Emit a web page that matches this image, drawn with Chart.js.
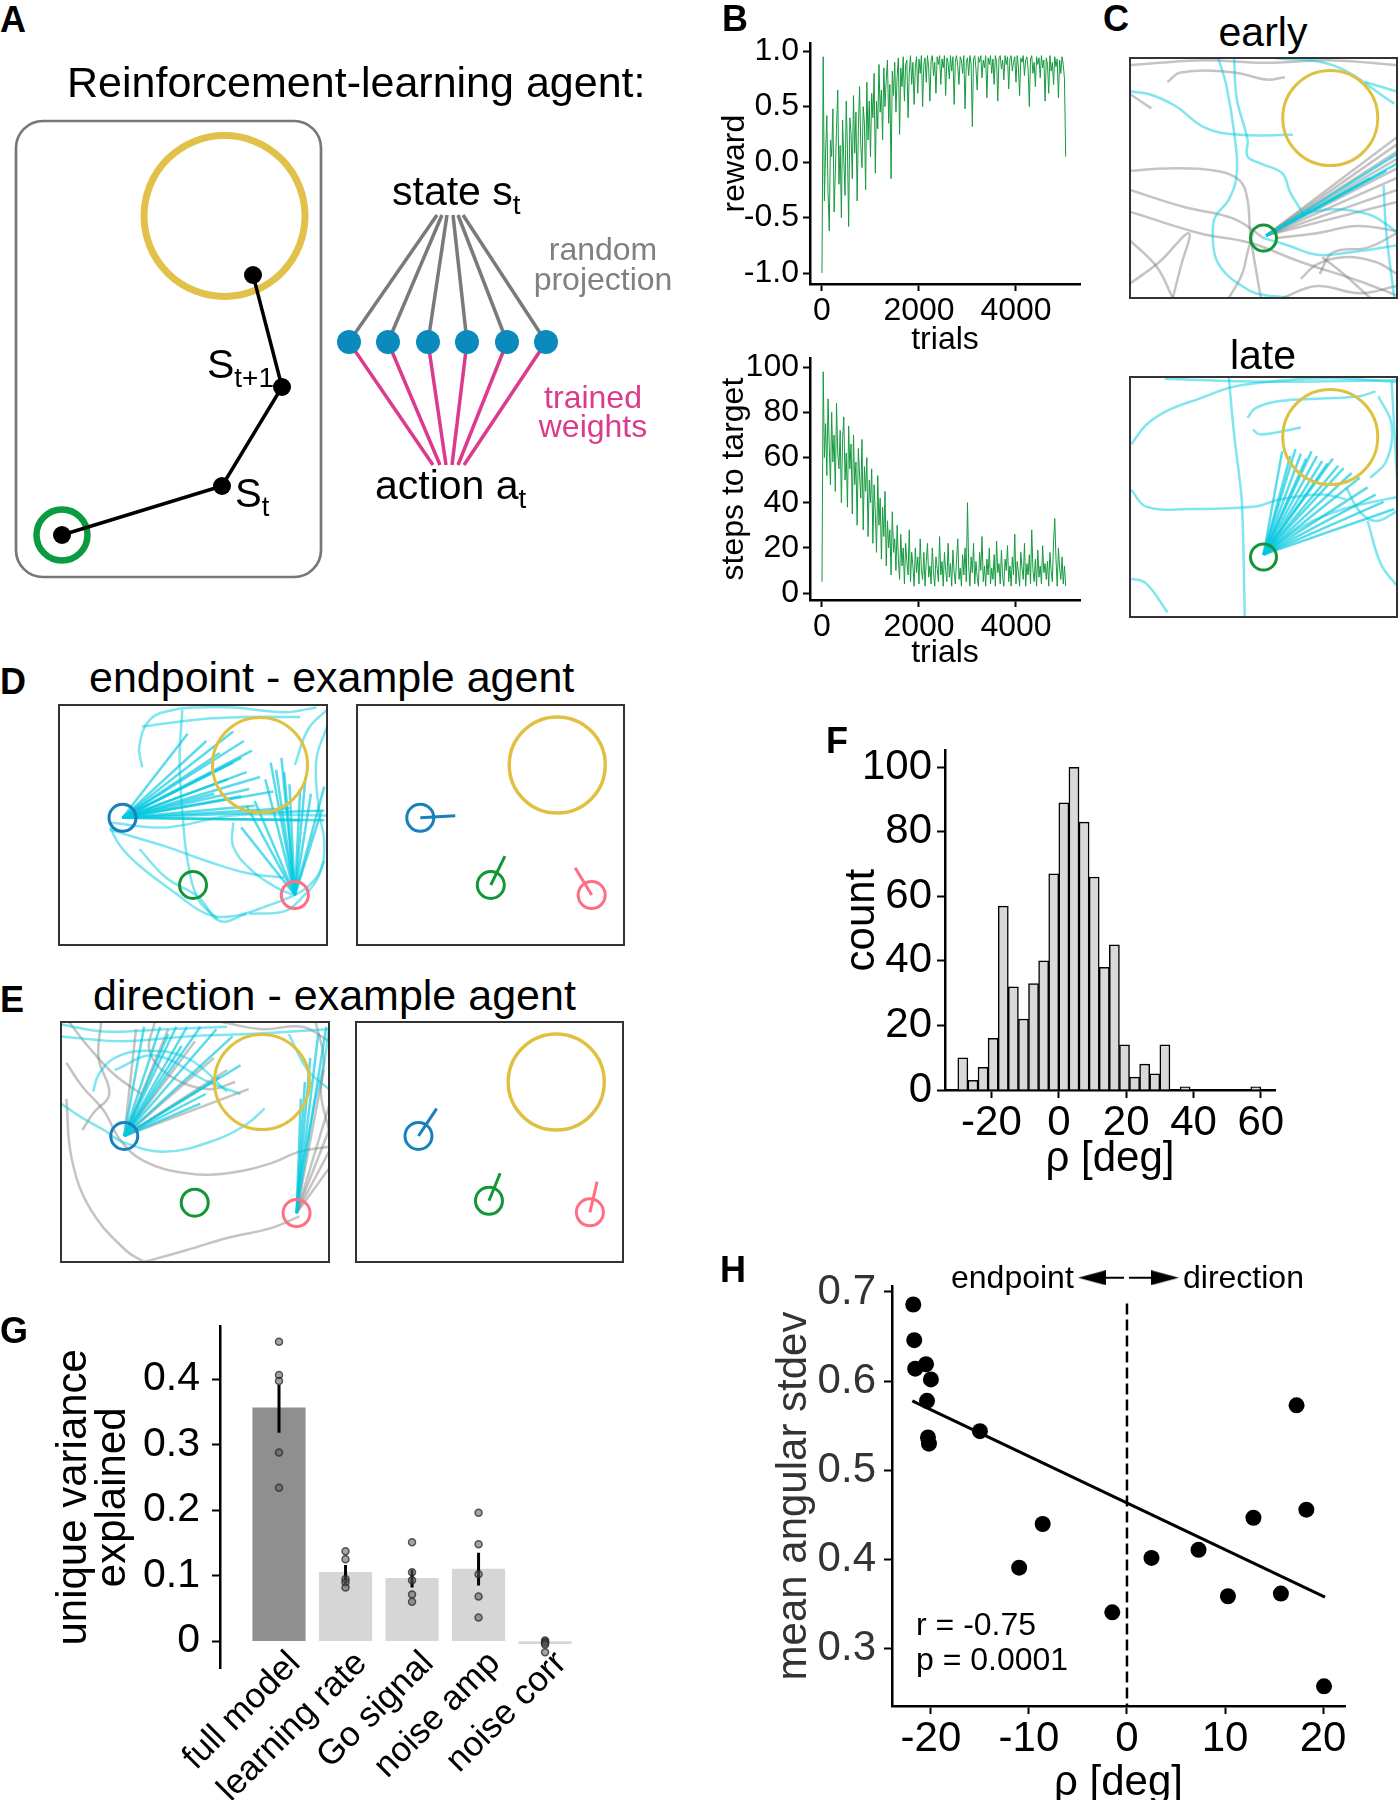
<!DOCTYPE html>
<html>
<head>
<meta charset="utf-8">
<script src="https://cdn.jsdelivr.net/npm/chart.js@4.4.0/dist/chart.umd.min.js"></script>
<style>
  body { margin: 0; background: #fff; width: 1399px; height: 1800px; position: relative; overflow: hidden;
         font-family: 'Liberation Sans', Arial, Helvetica, sans-serif; }
  canvas { position: absolute; }
  .t { position: absolute; white-space: nowrap; line-height: 1; color: #000; }
  .sub { font-size: 0.68em; position: relative; top: 0.32em; }
</style>
</head>
<body>
<script>
// ---------- B: learning curves (one value every TRIAL_STEP trials) ----------
const TRIAL_STEP = 25;
const trialTicks = [0, 2000, 4000];
const rewardTicks = [-1, -0.5, 0, 0.5, 1];
const stepsTicks = [0, 20, 40, 60, 80, 100];
const rewardValues = [
  -1.00, 0.95, -0.35, 0.10, 0.42, -0.28, -0.62, 0.20, 0.05, 0.48, -0.45, -0.10, 0.30, 0.65, -0.20, 0.15, -0.50, 0.38, 0.02, -0.30,
  0.55, 0.12, -0.58, 0.40, 0.25, -0.15, 0.60, 0.08, 0.45, -0.35, 0.30, 0.68, 0.15, -0.05, 0.50, 0.35, -0.25, 0.72, 0.20, 0.55,
  0.05, 0.62, 0.40, 0.80, -0.10, 0.55, 0.30, 0.88, 0.45, 0.65, 0.20, 0.85, 0.50, 0.75, 0.92, 0.35, 0.70, -0.15, 0.82, 0.60,
  0.90, 0.45, 0.78, 0.94, 0.25, 0.85, 0.68, 0.95, 0.55, 0.88, 0.92, 0.40, 0.80, 0.96, 0.70, 0.90, 0.52, 0.86, 0.95, 0.62,
  0.93, 0.80, 0.96, 0.50, 0.88, 0.94, 0.72, 0.96, 0.85, 0.55, 0.92, 0.96, 0.78, 0.90, 0.62, 0.95, 0.88, 0.96, 0.70, 0.93,
  0.85, 0.96, 0.60, 0.94, 0.90, 0.75, 0.96, 0.82, 0.95, 0.52, 0.91, 0.96, 0.86, 0.70, 0.95, 0.92, 0.80, 0.96, 0.48, 0.90,
  0.94, 0.78, 0.96, 0.88, 0.32, 0.93, 0.96, 0.84, 0.65, 0.95, 0.90, 0.96, 0.76, 0.92, 0.85, 0.96, 0.58, 0.94, 0.88, 0.96,
  0.80, 0.93, 0.70, 0.96, 0.90, 0.55, 0.94, 0.96, 0.84, 0.92, 0.74, 0.96, 0.88, 0.95, 0.66, 0.93, 0.96, 0.82, 0.90, 0.95,
  0.72, 0.96, 0.86, 0.60, 0.94, 0.90, 0.96, 0.78, 0.92, 0.95, 0.84, 0.50, 0.93, 0.96, 0.80, 0.90, 0.68, 0.95, 0.88, 0.94,
  0.76, 0.96, 0.85, 0.92, 0.55, 0.94, 0.88, 0.62, 0.96, 0.82, 0.90, 0.70, 0.95, 0.86, 0.93, 0.58, 0.92, 0.80, 0.95, 0.88, 0.75, 0.05
];
const stepsValues = [
  5, 98, 60, 75, 52, 86, 65, 48, 80, 58, 70, 45, 84, 62, 55, 72, 40, 68, 78, 50,
  62, 38, 74, 55, 66, 35, 70, 48, 58, 30, 64, 52, 42, 68, 28, 56, 45, 60, 25, 50,
  40, 55, 22, 48, 35, 18, 52, 30, 42, 15, 38, 25, 45, 12, 32, 20, 28, 8, 36, 18,
  24, 10, 30, 15, 6, 26, 12, 20, 4, 22, 14, 8, 28, 5, 18, 12, 3, 20, 9, 16,
  4, 24, 10, 6, 18, 3, 14, 22, 7, 12, 4, 20, 9, 3, 16, 11, 5, 25, 8, 14,
  3, 18, 10, 5, 22, 7, 13, 3, 19, 9, 4, 15, 24, 6, 11, 3, 17, 8, 20, 5,
  40, 12, 3, 16, 9, 22, 4, 14, 7, 3, 18, 10, 25, 5, 12, 3, 15, 8, 20, 4,
  11, 6, 17, 3, 23, 9, 13, 4, 19, 7, 3, 15, 10, 21, 5, 12, 3, 16, 8, 26,
  4, 14, 9, 3, 18, 11, 6, 22, 3, 13, 8, 17, 4, 28, 10, 5, 15, 3, 19, 7,
  12, 4, 21, 9, 13, 6, 14, 3, 18, 10, 5, 23, 33, 15, 3, 20, 11, 6, 16, 4, 12, 3
];

// ---------- C / D / E: arena trajectories, units 0-100, y pointing down ----------
const targetPos = [75, 25];
const startPos = [50, 75];
const earlyGray = [
  [[0,3],[26,1],[51,2],[76,1],[100,3]],
  [[14,10],[19,6],[39,6],[51,9],[58,8]],
  [[0,15],[8,21]],
  [[0,47],[14,46],[32,47],[41,51],[44,59],[45,73],[47,87],[49,100]],
  [[0,55],[20,62],[39,67],[50,75]],
  [[0,64],[26,73],[45,77],[64,85],[86,93],[100,99]],
  [[0,76],[10,87],[16,100]],
  [[0,94],[11,85],[22,73],[19,87],[16,100]],
  [[37,100],[42,90],[44,81],[46,73]],
  [[71,90],[76,81],[89,79],[100,73]],
  [[57,100],[70,95],[86,98],[100,95]],
  [[72,83],[80,90],[90,100]],
  [[55,75],[70,73],[85,70],[100,72]],
  [[64,92],[70,86],[80,83],[92,85],[100,90]]
];
const earlyCyan = [
  [[33,0],[36,11],[39,31],[40,48],[37,59],[32,66],[31,72],[32,83],[36,90],[42,95],[47,98],[60,100]],
  [[39,0],[40,17],[44,34],[44,41],[49,44],[57,48],[60,56],[65,65]],
  [[0,14],[7,15],[17,20],[28,29],[41,32],[61,32]],
  [[54,0],[76,3],[99,19]],
  [[95,53],[96,73],[99,100]],
  [[50,75],[59,78],[70,82],[82,81],[95,79],[100,78]],
  [[64,65],[76,63],[89,65],[97,70],[100,73]],
  [[88,10],[100,14]]
];
const earlyFanGray = [[100,33],[100,36],[100,39],[100,42],[100,46],[100,50],[100,55],[100,60]];
const earlyFanCyan = [[100,40],[100,44],[96,47],[90,50]];

const lateCyan = [
  [[0.5,28],[6,20],[14,14],[26,9],[39,4],[57,1.5],[75,0.5],[100,2]],
  [[0.5,47],[6,54],[22,55],[47,54],[56,51],[72,49],[81,51]],
  [[37,0],[39,24],[41,42],[42,54],[43,100]],
  [[44,17],[47,13],[56,10],[72,9],[86,8],[92,6]],
  [[46,22],[49,24],[64,21]],
  [[0.5,84],[6,86],[14,98]],
  [[89,60],[94,78],[100,87]],
  [[81,46],[86,56],[92,60],[100,56]],
  [[98,2],[100,42]],
  [[13,0.7],[50,2],[100,1.4]],
  [[93,8],[98,20],[96,35],[90,42]],
  [[50,74],[65,62],[80,55],[100,50]]
];
const lateFanCyan = [[57,31],[60,33],[62,30],[64,32],[66,34],[68,31],[70,33],[72,35],[74,36],[76,34],
  [78,37],[80,38],[83,40],[86,42],[89,46],[92,49],[95,52],[99,55]];

const blueStart = [23.7, 47];
const greenStart = [50, 75];
const pinkStart = [88, 79.2];
const endBlueFan = [[48,12],[65,11],[69,15],[72,19],[68,22],[65,24],[70,28],[71,35],[63,31],[58,37],
  [68,38],[73,42],[86,43],[99,44],[99,48],[90,48],[55,15],[60,20],[75,30],[80,36]];
const endPinkFan = [[79,24],[81,27],[84,28],[86,33],[90,35],[94,37],[73,40],[70,42],[68,51],[98,44],
  [99,34],[77,31],[83,22],[92,30]];
const endCyan = [
  [[19,52],[28,55],[40,59],[55,65],[70,70],[84,72]],
  [[19,51],[23,59],[30,67],[43,78],[55,87],[65,88],[77,84],[90,78],[96,72],[99,65]],
  [[31,26],[30,17],[34,6],[43,2],[52,1],[65,1],[84,3],[96,1]],
  [[46,2],[45,23],[46,44],[48,65],[52,81],[59,89]],
  [[100,9],[96,23],[97,44],[99,58],[97,71],[90,81],[84,86],[71,87]],
  [[65,49],[65,59],[72,69],[81,76],[87,79]],
  [[31,9],[52,6],[71,5],[90,5]],
  [[19,49],[40,51],[65,46],[100,46]],
  [[100,2],[93,10],[88,25]],
  [[30,60],[40,72],[52,80],[60,90],[70,87]]
];

const dirBlueFanCyan = [[31,2],[37,2],[43,2],[47,2],[52,2],[58,3],[64,6],[67,18],[59,23],[54,30],[52,34],[45,10],[40,5]];
const dirBlueFanGray = [[28,3],[40,3],[50,8],[57,15],[62,20],[70,28]];
const dirPinkFanCyan = [[89.5,32],[93,15],[96,5],[99,2],[91,25]];
const dirPinkFanGray = [[100,61],[100,54],[100,45],[100,35],[98,20]];
const dirGray = [
  [[2,17],[8,27],[16,37],[22,49],[31,58],[47,63],[62,63],[78,59],[89,54],[100,52]],
  [[2,32],[4,57],[11,78],[24,95],[31,100]],
  [[31,100],[47,95],[62,90],[78,86],[89,81]],
  [[3,0],[10,10],[20,22],[30,30]],
  [[15,0],[14,15],[18,30],[12,38],[8,45]],
  [[35,0],[33,12],[40,22],[55,28],[65,25]],
  [[60,0],[75,3],[90,2],[100,8]],
  [[95,0],[98,15],[97,30],[100,45]]
];
const dirCyan = [
  [[0,34],[8,40],[16,45],[23,50],[39,54],[58,49],[70,42],[76,36]],
  [[0,6],[23,8],[47,6],[70,5],[100,3]],
  [[0,1],[16,4],[39,3],[62,2]],
  [[12,29],[14,22],[20,15],[31,12],[47,15],[62,29]],
  [[100,3],[98,18],[95,32],[92,49],[89,66],[88,80]],
  [[20,20],[35,14],[55,25],[67,30]],
  [[85,5],[92,20],[100,28]]
];
// mean initial movement direction per start (end point of the short line)
const endpointDirs = { blue: [[23.7,47],[36.8,46.1]], green: [[50.1,75],[55.4,63]], pink: [[87.9,79.2],[81.7,67.8]] };
const directionDirs = { blue: [[23.4,47.5],[30.2,36.1]], green: [[49.8,74.5],[54,63]], pink: [[87.6,79.3],[90.3,66.5]] };

// ---------- F: histogram of rho ----------
const fBinCenters = [-28.5, -25.5, -22.5, -19.5, -16.5, -13.5, -10.5, -7.5, -4.5, -1.5, 1.5, 4.5, 7.5,
  10.5, 13.5, 16.5, 19.5, 22.5, 25.5, 28.5, 31.5, 37.5, 58.5];
const fCounts = [10, 3, 7, 16, 57, 32, 22, 33, 40, 67, 89, 100, 83, 66, 38, 45, 14, 4, 8, 5, 14, 1, 1];
const fXTicks = [-20, 0, 20, 40, 60];
const fYTicks = [0, 20, 40, 60, 80, 100];

// ---------- G: unique variance explained ----------
const gCategories = ['full model', 'learning rate', 'Go signal', 'noise amp', 'noise corr'];
const gMeans = [0.356, 0.105, 0.096, 0.110, -0.004];
const gErrLow = [0.318, 0.088, 0.082, 0.085, -0.006];
const gErrHigh = [0.391, 0.116, 0.109, 0.135, -0.002];
const gDots = [
  [0.457, 0.406, 0.397, 0.288, 0.234],
  [0.137, 0.125, 0.095, 0.090, 0.082],
  [0.151, 0.105, 0.093, 0.071, 0.060],
  [0.196, 0.148, 0.102, 0.068, 0.036],
  [0.001, -0.001, -0.003, -0.005, -0.017]
];
const gYTicks = [0, 0.1, 0.2, 0.3, 0.4];
const gBarColors = ['#8f8f8f', '#d6d6d6', '#d6d6d6', '#d6d6d6', '#d6d6d6'];

// ---------- H: angular stdev vs rho ----------
const hRho = [-21.8, -21.7, -21.6, -20.5, -20.0, -20.4, -20.3, -20.2, -15.0, -8.6, -11.0, -1.5,
  2.5, 7.3, 10.3, 12.9, 15.7, 17.3, 18.3, 20.1];
const hStd = [0.686, 0.646, 0.614, 0.619, 0.602, 0.578, 0.537, 0.530, 0.544, 0.440, 0.391, 0.341,
  0.402, 0.411, 0.359, 0.447, 0.362, 0.573, 0.456, 0.258];
const hFitX = [-21.9, 20.2];
const hFitY = [0.578, 0.358];
const hXTicks = [-20, -10, 0, 10, 20];
const hYTicks = [0.3, 0.4, 0.5, 0.6, 0.7];

// ---------- chart defaults ----------
Chart.defaults.font.family = "'Liberation Sans', Arial, Helvetica, sans-serif";
Chart.defaults.color = '#000';
Chart.defaults.animation = false;
Chart.defaults.responsive = false;
Chart.defaults.devicePixelRatio = 1;
Chart.defaults.events = [];
Chart.defaults.layout.autoPadding = false;
Chart.defaults.plugins.legend.display = false;
Chart.defaults.plugins.tooltip.enabled = false;

function makeCanvas(left, top, w, h) {
  const c = document.createElement('canvas');
  c.width = w; c.height = h;
  c.style.left = left + 'px'; c.style.top = top + 'px';
  c.style.width = w + 'px'; c.style.height = h + 'px';
  document.body.appendChild(c);
  return c;
}

function axis(o) {
  return {
    type: 'linear', min: o.min, max: o.max, reverse: !!o.reverse, offset: false,
    border: { display: o.border !== false, color: '#000', width: 2.5 },
    grid: { drawOnChartArea: false, drawTicks: !!o.tickLen, tickLength: o.tickLen || 0, tickWidth: 2, tickColor: '#000', offset: false },
    ticks: { font: { size: o.size }, padding: o.pad, color: o.color || '#000', callback: o.fmt, autoSkip: false,
             maxRotation: o.rot || 0, minRotation: o.rot || 0, labelOffset: o.labelOffset || 0 },
    afterBuildTicks: s => { s.ticks = o.ticks.map(v => ({ value: v })); },
    afterFit: s => { if (o.w != null) s.width = o.w; if (o.h != null) s.height = o.h; },
    title: o.title ? { display: true, text: o.title, color: o.tcolor || '#000',
                       font: { size: o.tsize, lineHeight: o.tlh || 1.2 }, padding: { top: o.tpad, bottom: o.tpad } }
                   : { display: false }
  };
}

const hidden = (min, max, reverse) => ({ type: 'linear', display: false, min, max, reverse });
const pts = arr => arr.map(([x, y]) => ({ x, y }));
const path = (p, color, width, tension) => ({ data: pts(p), showLine: true, borderColor: color, borderWidth: width,
  pointRadius: 0, tension: tension == null ? 0.4 : tension, fill: false });
const fan = (start, ends, color, width) => ends.map(e => path([start, e], color, width, 0));
const ring = (p, r, color, w) => ({ data: pts([p]), showLine: false, pointRadius: r, pointBorderWidth: w,
  pointBorderColor: color, pointBackgroundColor: 'rgba(0,0,0,0)' });

const frame = { id: 'frame', afterDatasetsDraw(chart) {
  const { ctx, chartArea: a } = chart;
  ctx.save(); ctx.strokeStyle = '#333'; ctx.lineWidth = 2;
  ctx.strokeRect(a.left, a.top, a.right - a.left, a.bottom - a.top); ctx.restore();
} };

const roundBox = { id: 'roundBox', beforeDatasetsDraw(chart, args, o) {
  const { ctx, scales: { x, y } } = chart;
  const l = x.getPixelForValue(o.x0), r = x.getPixelForValue(o.x1);
  const t = y.getPixelForValue(o.y0), b = y.getPixelForValue(o.y1);
  ctx.save(); ctx.beginPath(); ctx.roundRect(l, t, r - l, b - t, o.radius);
  ctx.strokeStyle = o.color; ctx.lineWidth = o.width; ctx.stroke(); ctx.restore();
} };

const CYAN = 'rgba(0,206,224,0.5)';
const CYAN_FAN = 'rgba(0,200,222,0.65)';
const GRAY = 'rgba(125,125,125,0.45)';
const YELLOW = '#e0c040';
const BLUE = '#1780bd', GREEN = '#139638', PINK = '#ff6e83';
const TRAJ_W = 2.5;

function arena(left, top, w, h, datasets) {
  new Chart(makeCanvas(left - 2, top - 2, w + 4, h + 4), {
    type: 'scatter',
    data: { datasets },
    options: { layout: { padding: 2, autoPadding: false }, scales: { x: hidden(0, 100), y: hidden(0, 100, true) } },
    plugins: [frame]
  });
}

// ---------- A: schematic ----------
const diagBox = { x0: 3.2, x1: 64.2, y0: 4.2, y1: 95.4 };
const diagTarget = [44.9, 23.2];
const diagPath = [[50.6, 35], [56.4, 57.4], [44.4, 77.2], [12.4, 87]];
const diagNodesX = [69.8, 77.6, 85.6, 93.4, 101.4, 109.2];
const diagNodeY = 48.4;
const diagStateX = [87.4, 88.4, 89.4, 90.6, 91.6, 92.6];
const diagStateY = 23;
const diagActionX = [86.6, 88, 89.2, 90.4, 91.6, 92.8];
const diagActionY = 73;

new Chart(makeCanvas(0, 100, 700, 500), {
  type: 'scatter',
  data: { datasets: [
    { data: pts(diagPath), showLine: false, pointRadius: 9, pointBackgroundColor: '#000', pointBorderWidth: 0 },
    { data: diagNodesX.map(x => ({ x, y: diagNodeY })), showLine: false, pointRadius: 12, pointBackgroundColor: '#0a8abd', pointBorderWidth: 0 },
    path(diagPath, '#000', 3.5, 0),
    ...diagNodesX.map((x, i) => path([[diagStateX[i], diagStateY], [x, diagNodeY]], '#7a7a7a', 3.5, 0)),
    ...diagNodesX.map((x, i) => path([[x, diagNodeY], [diagActionX[i], diagActionY]], '#dc3a8c', 3.5, 0)),
    ring(diagTarget, 80.5, '#e2c14a', 7),
    ring(diagPath[3], 25.5, '#0a9a40', 6.5)
  ] },
  options: {
    layout: { padding: 0, autoPadding: false },
    scales: { x: hidden(0, 140), y: hidden(0, 100, true) },
    plugins: { roundBox: { ...diagBox, radius: 27, color: '#777', width: 2.7 } }
  },
  plugins: [roundBox]
});

// ---------- B ----------
new Chart(makeCanvas(690, 20, 410, 345), {
  type: 'line',
  data: { datasets: [{ data: rewardValues.map((v, i) => ({ x: i * TRIAL_STEP, y: v })), borderColor: '#159a3f',
                       borderWidth: 1, pointRadius: 0, tension: 0 }] },
  options: {
    layout: { padding: { top: 22, right: 20, left: 0, bottom: 0 } },
    scales: {
      x: axis({ min: -247, max: 5320, ticks: trialTicks, size: 32, pad: 1, tickLen: 7, h: 81,
                title: 'trials', tsize: 32, tpad: 6, fmt: v => String(v) }),
      y: axis({ min: -1.099, max: 1.072, ticks: rewardTicks, size: 32, pad: 4, tickLen: 7, w: 120,
                title: 'reward', tsize: 32, tpad: 26, fmt: v => v.toFixed(1) })
    }
  }
});

new Chart(makeCanvas(690, 335, 410, 345), {
  type: 'line',
  data: { datasets: [{ data: stepsValues.map((v, i) => ({ x: i * TRIAL_STEP, y: v })), borderColor: '#159a3f',
                       borderWidth: 1, pointRadius: 0, tension: 0 }] },
  options: {
    layout: { padding: { top: 22, right: 20, left: 0, bottom: 0 } },
    scales: {
      x: axis({ min: -247, max: 5320, ticks: trialTicks, size: 32, pad: 1, tickLen: 7, h: 80,
                title: 'trials', tsize: 32, tpad: 8, fmt: v => String(v) }),
      y: axis({ min: -3.1, max: 104, ticks: stepsTicks, size: 32, pad: 4, tickLen: 7, w: 120,
                title: 'steps to target', tsize: 32, tpad: 25, fmt: v => String(v) })
    }
  }
});

// ---------- C ----------
arena(1130, 58, 267, 240, [
  ring(startPos, 13, GREEN, 3),
  ring(targetPos, 47.5, YELLOW, 3),
  ...fan([51, 74], earlyFanCyan, CYAN_FAN, TRAJ_W),
  ...earlyCyan.map(p => path(p, CYAN, TRAJ_W)),
  ...fan([51, 74], earlyFanGray, GRAY, TRAJ_W),
  ...earlyGray.map(p => path(p, GRAY, TRAJ_W))
]);
arena(1130, 377, 267, 240, [
  ring(startPos, 13, GREEN, 3),
  ring(targetPos, 47.5, YELLOW, 3),
  ...fan([50, 74], lateFanCyan, CYAN_FAN, TRAJ_W),
  ...lateCyan.map(p => path(p, CYAN, TRAJ_W))
]);

// ---------- D ----------
arena(59, 705, 268, 240, [
  ring(blueStart, 13.5, BLUE, 3),
  ring(greenStart, 13.5, GREEN, 3),
  ring(pinkStart, 13.5, PINK, 3),
  ring(targetPos, 47.5, YELLOW, 3),
  ...fan(blueStart, endBlueFan, CYAN_FAN, TRAJ_W),
  ...fan(pinkStart, endPinkFan, CYAN_FAN, TRAJ_W),
  ...endCyan.map(p => path(p, CYAN, TRAJ_W))
]);
arena(357, 705, 267, 240, [
  path(endpointDirs.blue, BLUE, 3, 0), path(endpointDirs.green, GREEN, 3, 0), path(endpointDirs.pink, PINK, 3, 0),
  ring(endpointDirs.blue[0], 13.5, BLUE, 3), ring(endpointDirs.green[0], 13.5, GREEN, 3), ring(endpointDirs.pink[0], 13.5, PINK, 3),
  ring(targetPos, 48, YELLOW, 3.5)
]);

// ---------- E ----------
arena(61, 1022, 268, 240, [
  ring([23.6, 47.5], 13.5, BLUE, 3),
  ring([49.9, 75.3], 13.5, GREEN, 3),
  ring([87.9, 79.6], 13.5, PINK, 3),
  ring(targetPos, 47.5, YELLOW, 3),
  ...fan([23.6, 47.5], dirBlueFanCyan, CYAN_FAN, TRAJ_W),
  ...fan([87.9, 79.6], dirPinkFanCyan, CYAN_FAN, TRAJ_W),
  ...dirCyan.map(p => path(p, CYAN, TRAJ_W)),
  ...fan([23.6, 47.5], dirBlueFanGray, GRAY, TRAJ_W),
  ...fan([87.9, 79.6], dirPinkFanGray, GRAY, TRAJ_W),
  ...dirGray.map(p => path(p, GRAY, TRAJ_W))
]);
arena(356, 1022, 267, 240, [
  path(directionDirs.blue, BLUE, 3, 0), path(directionDirs.green, GREEN, 3, 0), path(directionDirs.pink, PINK, 3, 0),
  ring(directionDirs.blue[0], 13.5, BLUE, 3), ring(directionDirs.green[0], 13.5, GREEN, 3), ring(directionDirs.pink[0], 13.5, PINK, 3),
  ring(targetPos, 48, YELLOW, 3.5)
]);

// ---------- F ----------
new Chart(makeCanvas(780, 720, 520, 480), {
  type: 'bar',
  data: { datasets: [{ data: fBinCenters.map((x, i) => ({ x, y: fCounts[i] })), backgroundColor: '#d9d9d9',
                       borderColor: '#000', borderWidth: 1.5, barPercentage: 1, categoryPercentage: 1 }] },
  options: {
    layout: { padding: { top: 30, right: 25, left: 0, bottom: 0 } },
    scales: {
      x: axis({ min: -33.8, max: 64.2, ticks: fXTicks, size: 42, pad: 0, tickLen: 8, h: 110,
                title: 'ρ [deg]', tsize: 42, tpad: 15, fmt: v => String(v) }),
      y: axis({ min: 0, max: 105.3, ticks: fYTicks, size: 42, pad: 5, tickLen: 8, w: 165,
                title: 'count', tsize: 42, tpad: 57, fmt: v => String(v) })
    }
  }
});

// ---------- G ----------
const gX = axis({ min: -0.887, max: 4.6, ticks: gCategories.map((c, i) => i), size: 35, pad: 2, tickLen: 0,
                  border: false, rot: 45, labelOffset: 16, fmt: v => gCategories[v] });
gX.position = { y: 0 };   // category labels hang from the zero line
new Chart(makeCanvas(0, 1290, 620, 510), {
  type: 'bar',
  data: { datasets: [
    { type: 'line', order: 0, data: gDots.flatMap((vals, i) => vals.map(y => ({ x: i, y }))), showLine: false,
      pointRadius: 3.5, pointBackgroundColor: 'rgba(90,90,90,0.55)', pointBorderColor: 'rgba(40,40,40,0.75)', pointBorderWidth: 1.5 },
    ...gCategories.map((c, i) => ({ type: 'line', order: 1, data: [{ x: i, y: gErrLow[i] }, { x: i, y: gErrHigh[i] }],
      borderColor: '#000', borderWidth: 3, pointRadius: 0, tension: 0 })),
    { order: 2, data: gMeans.map((y, i) => ({ x: i, y })), backgroundColor: gBarColors, borderWidth: 0, barThickness: 52.5 }
  ] },
  options: {
    layout: { padding: { top: 35, right: 35, left: 0, bottom: 132 } },
    scales: {
      x: gX,
      y: axis({ min: -0.041, max: 0.48, ticks: gYTicks, size: 41, pad: 12, tickLen: 8, w: 220,
                title: ['unique variance', 'explained'], tsize: 42, tlh: 0.95, tpad: 54,
                fmt: v => v === 0 ? '0' : v.toFixed(1) })
    }
  }
});

// ---------- H ----------
function arrowHead(dir) {
  const c = document.createElement('canvas');
  c.width = 28; c.height = 15;
  const g = c.getContext('2d');
  g.beginPath();
  if (dir < 0) { g.moveTo(0, 7.5); g.lineTo(28, 0); g.lineTo(28, 15); }
  else { g.moveTo(28, 7.5); g.lineTo(0, 0); g.lineTo(0, 15); }
  g.closePath(); g.fillStyle = '#000'; g.fill();
  return c;
}
const ARROW_Y = 0.716;
new Chart(makeCanvas(740, 1240, 640, 560), {
  type: 'scatter',
  data: { datasets: [
    { data: hRho.map((x, i) => ({ x, y: hStd[i] })), pointRadius: 8, pointBackgroundColor: '#000', pointBorderWidth: 0 },
    { data: hFitX.map((x, i) => ({ x, y: hFitY[i] })), showLine: true, borderColor: '#000', borderWidth: 3, pointRadius: 0 },
    { data: [{ x: 0, y: 0.687 }, { x: 0, y: 0.236 }], showLine: true, borderColor: '#000', borderWidth: 2.5,
      borderDash: [11, 5], pointRadius: 0 },
    { data: [{ x: -0.3, y: ARROW_Y }, { x: -3.6, y: ARROW_Y }], showLine: true, borderColor: '#000', borderWidth: 2,
      pointRadius: 0, clip: false },
    { data: [{ x: 0.2, y: ARROW_Y }, { x: 3.9, y: ARROW_Y }], showLine: true, borderColor: '#000', borderWidth: 2,
      pointRadius: 0, clip: false },
    { data: [{ x: -3.57, y: ARROW_Y }], pointStyle: arrowHead(-1), pointRadius: 14, clip: false },
    { data: [{ x: 3.87, y: ARROW_Y }], pointStyle: arrowHead(1), pointRadius: 14, clip: false }
  ] },
  options: {
    layout: { padding: { top: 46, right: 35, left: 0, bottom: 0 } },
    scales: {
      x: axis({ min: -23.97, max: 22.24, ticks: hXTicks, size: 42, pad: 0, tickLen: 8, h: 94,
                title: 'ρ [deg]', tsize: 42, tlh: 0.8, tpad: 0, fmt: v => String(v) }),
      y: axis({ min: 0.236, max: 0.7067, ticks: hYTicks, size: 42, pad: 8, tickLen: 8, w: 152, color: '#333',
                title: 'mean angular stdev', tsize: 42, tpad: 29, tcolor: '#333', fmt: v => v.toFixed(1) })
    }
  }
});

// ---------- text ----------
function text(html, x, base, size, o = {}) {
  const d = document.createElement('div');
  d.className = 't';
  d.innerHTML = html;
  d.style.fontSize = size + 'px';
  d.style.left = x + 'px';
  d.style.top = (base - 0.8465 * size) + 'px';
  if (o.bold) d.style.fontWeight = 'bold';
  if (o.color) d.style.color = o.color;
  if (o.center) d.style.transform = 'translateX(-50%)';
  document.body.appendChild(d);
}
const panelLetters = [['A', 0, 32], ['B', 722, 31], ['C', 1103, 31], ['D', 0, 694], ['E', 0, 1012],
  ['F', 826, 753], ['G', 0, 1343], ['H', 720, 1282]];
panelLetters.forEach(([l, x, b]) => text(l, x, b, 36, { bold: true }));

text('Reinforcement-learning agent:', 67, 97, 43);
text('state s<span class="sub">t</span>', 392, 206, 41);
text('action a<span class="sub">t</span>', 375, 500, 41);
text('random', 603, 260, 32, { center: true, color: '#808080' });
text('projection', 603, 290, 32, { center: true, color: '#808080' });
text('trained', 593, 408, 32, { center: true, color: '#dc3a8c' });
text('weights', 593, 437, 32, { center: true, color: '#dc3a8c' });
text('S<span class="sub">t+1</span>', 207, 379, 41);
text('S<span class="sub">t</span>', 235, 507, 40);

text('early', 1263, 47, 41, { center: true });
text('late', 1263, 370, 41, { center: true });
text('endpoint - example agent', 89, 692, 43);
text('direction - example agent', 93, 1010, 43);

text('endpoint', 951, 1288, 32);
text('direction', 1183, 1288, 32);
text('r = -0.75', 916, 1635, 32);
text('p = 0.0001', 916, 1670, 32);
</script>
</body>
</html>
